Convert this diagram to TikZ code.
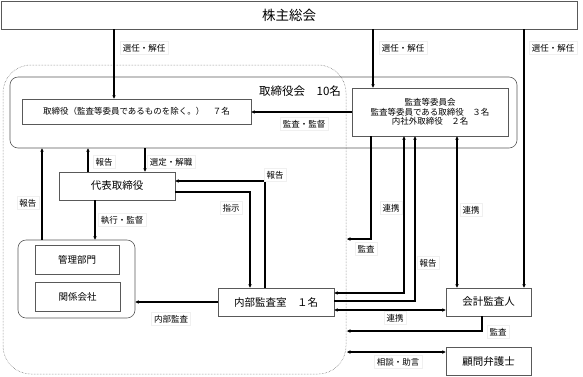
\documentclass[tikz,border=0pt]{standalone}
\usepackage{fontspec}
\setmainfont{Noto Sans CJK JP}
\usetikzlibrary{arrows.meta}
\begin{document}
\begin{tikzpicture}[x=1pt,y=-1pt,
  box/.style={draw=black!65, line width=0.6pt, fill=white, inner sep=0pt, font=\fontsize{10.5}{12}\selectfont},
  lbl/.style={fill=white, draw=black!6, inner sep=2.5pt, font=\fontsize{8.5}{10}\selectfont},
  arr/.style={line width=1.1pt, -{Stealth[length=3.5pt,width=3.5pt]}},
  darr/.style={line width=1.1pt, {Stealth[length=3.5pt,width=3.5pt]}-{Stealth[length=3.5pt,width=3.5pt]}}]
\useasboundingbox (0,0) rectangle (583,376);
% helper coordinates
\coordinate (xa) at (114,0);
\coordinate (xb) at (373,0);
\coordinate (xc) at (524,0);
\coordinate (xd) at (42,0);
\coordinate (xe) at (88,0);
\coordinate (xf) at (145,0);
\coordinate (xg) at (250,192);
\coordinate (xh) at (265,181);
\coordinate (xi) at (95,0);
\coordinate (xj) at (371,239);
\coordinate (xk) at (404,293);
\coordinate (xl) at (415,301);
\coordinate (xm) at (457,0);
\coordinate (xn) at (0,310);
\coordinate (xo) at (482,331);
\coordinate (xp) at (347,0);
\coordinate (xq) at (0,352);
% outer dotted region
\draw[densely dotted, black!60, line width=0.5pt, rounded corners=28pt] (3,65) rectangle (346,374);
% top box
\node[box, minimum width=576pt, minimum height=28pt, font=\fontsize{13.5}{15}\selectfont] (kabu) at (289,15) {株主総会};
% board
\node[box, fill=none, rounded corners=8pt, minimum width=507pt, minimum height=71pt] (tbk) at (263.5,112.5) {};
\node[fill=white, inner sep=2pt, font=\fontsize{11.5}{13}\selectfont] (tbkl) at (300,91) {取締役会　10名};
\node[box, minimum width=229pt, minimum height=25pt, font=\fontsize{8.5}{10}\selectfont] (tori) at (136.5,111.5) {取締役（監査等委員であるものを除く。）　７名};
\node[box, minimum width=156pt, minimum height=48pt, align=center, font=\fontsize{8.5}{9.3}\selectfont] (kansa) at (430,112) {監査等委員会\\監査等委員である取締役　３名\\内社外取締役　２名};
\node[box, minimum width=116pt, minimum height=28pt] (daihyo) at (117,186) {代表取締役};
\node[box, fill=none, rounded corners=8pt, minimum width=117pt, minimum height=78pt] (grp) at (76.5,279) {};
\node[box, minimum width=84pt, minimum height=29pt, font=\fontsize{9.5}{11}\selectfont] (kanri) at (77,259.5) {管理部門};
\node[box, minimum width=85pt, minimum height=29pt, font=\fontsize{9.5}{11}\selectfont] (kankei) at (77.5,296.5) {関係会社};
\node[box, minimum width=116pt, minimum height=28pt] (naibu) at (276,302) {内部監査室　１名};
\node[box, minimum width=85pt, minimum height=28pt] (kaikei) at (488.5,302) {会計監査人};
\node[box, minimum width=85pt, minimum height=28pt] (komon) at (488.5,361) {顧問弁護士};
% arrows
\draw[arr] (kabu.south -| xa) -- (tori.north -| xa);
\draw[arr] (kabu.south -| xb) -- (kansa.north -| xb);
\draw[arr] (kabu.south -| xc) -- (kaikei.north -| xc);
\draw[arr] (kansa.west) -- (tori.east |- kansa.west);
\draw[arr] (grp.north -| xd) -- (tbk.south -| xd);
\draw[arr] (daihyo.north -| xe) -- (tbk.south -| xe);
\draw[arr] (tbk.south -| xf) -- (daihyo.north -| xf);
\draw[arr] (daihyo.east |- xg) -- (xg) -- (naibu.north -| xg);
\draw[arr] (naibu.north -| xh) -- (xh) -- (daihyo.east |- xh);
\draw[arr] (daihyo.south -| xi) -- (grp.north -| xi);
\draw[arr] (naibu.west) -- (grp.east |- naibu.west);
\draw[arr] (kansa.south -| xj) -- (xj) -- (xj -| xp);
\draw[darr] (kansa.south -| xk) -- (xk) -- (naibu.east |- xk);
\draw[arr] (naibu.east |- xl) -- (xl) -- (kansa.south -| xl);
\draw[darr] (kansa.south -| xm) -- (kaikei.north -| xm);
\draw[darr] (naibu.east |- xn) -- (kaikei.west |- xn);
\draw[arr] (kaikei.south -| xo) -- (xo) -- (xo -| xp);
\draw[darr] (xq -| xp) -- (komon.west |- xq);
% labels
\node[lbl] (l1) at (144,48) {選任・解任};
\node[lbl] (l2) at (403,48) {選任・解任};
\node[lbl] (l3) at (553,48) {選任・解任};
\node[lbl] (l4) at (304,124) {監査・監督};
\node[lbl] (l5) at (28,203) {報告};
\node[lbl] (l6) at (104,162) {報告};
\node[lbl] (l7) at (171,162) {選定・解職};
\node[lbl] (l8) at (122,220) {執行・監督};
\node[lbl] (l9) at (231,208) {指示};
\node[lbl] (l10) at (275,175) {報告};
\node[lbl] (l11) at (171,319) {内部監査};
\node[lbl] (l12) at (366,249) {監査};
\node[lbl] (l13) at (391,208) {連携};
\node[lbl] (l14) at (471,210) {連携};
\node[lbl] (l15) at (428,263) {報告};
\node[lbl] (l16) at (395,318) {連携};
\node[lbl] (l17) at (498,332) {監査};
\node[lbl] (l18) at (398,362) {相談・助言};
\end{tikzpicture}
\end{document}
